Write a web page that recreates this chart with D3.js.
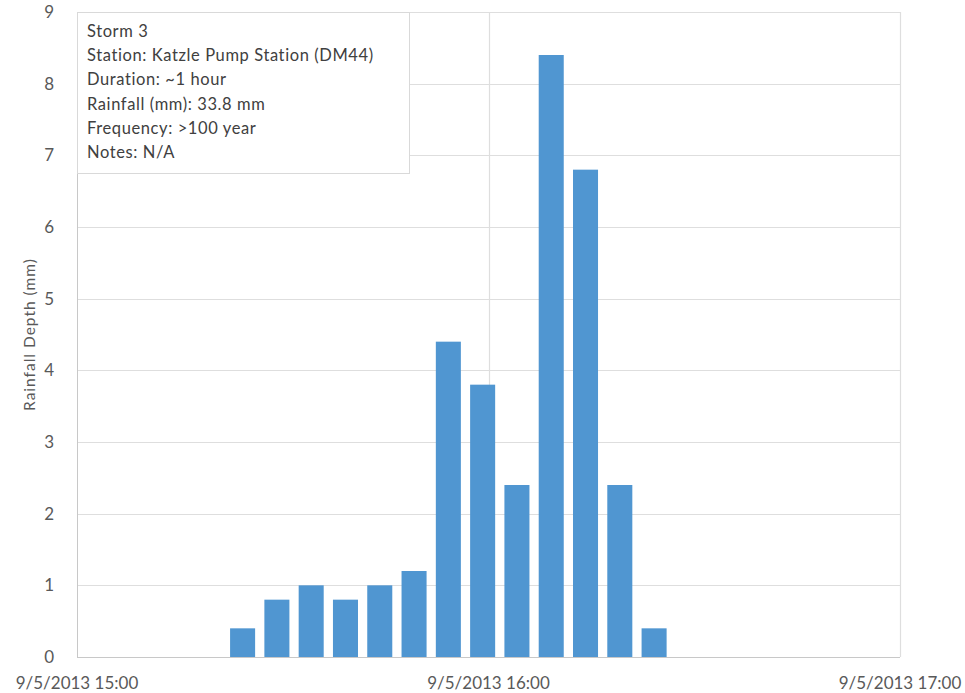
<!DOCTYPE html>
<html>
<head>
<meta charset="utf-8">
<script src="https://cdn.jsdelivr.net/npm/d3@7"></script>
<style>
  body { margin: 0; background: #fff; }
  text { font-family: Lato, "Noto Sans", sans-serif; }
</style>
</head>
<body>
<svg id="chart" width="965" height="693"></svg>
<script>
// Data
const times = ["15:24","15:29","15:34","15:39","15:44","15:49","15:54","15:59","16:04","16:09","16:14","16:19","16:24"];
const rainfall = [0.4, 0.8, 1.0, 0.8, 1.0, 1.2, 4.4, 3.8, 2.4, 8.4, 6.8, 2.4, 0.4];
const xTickLabels = ["9/5/2013 15:00", "9/5/2013 16:00", "9/5/2013 17:00"];
const xTickTimes = ["15:00", "16:00", "17:00"];
const yTicks = [0,1,2,3,4,5,6,7,8,9];
const noteLines = [
  "Storm 3",
  "Station: Katzle Pump Station (DM44)",
  "Duration: ~1 hour",
  "Rainfall (mm): 33.8 mm",
  "Frequency: >100 year",
  "Notes: N/A"
];
const yTitle = "Rainfall Depth (mm)";

(function () {
const parse = t => d3.timeParse("%Y-%m-%d %H:%M")("2013-09-05 " + t);

const svg = d3.select("#chart");
const pLeft = 77, pRight = 900, pTop = 12, pBottom = 657;

const x = d3.scaleTime().domain([parse("15:00"), parse("17:00")]).range([pLeft, pRight]);
const y = d3.scaleLinear().domain([0, 9]).range([pBottom, pTop]);

const grid = "#dedede";
const textColor = "#595959";

// horizontal gridlines
svg.append("g").selectAll("line").data(yTicks.filter(d => d > 0)).join("line")
  .attr("x1", pLeft).attr("x2", pRight)
  .attr("y1", d => Math.round(y(d)) + 0.5).attr("y2", d => Math.round(y(d)) + 0.5)
  .attr("stroke", grid).attr("stroke-width", 1.2);

// vertical gridlines
svg.append("g").selectAll("line").data(xTickTimes.slice(1)).join("line")
  .attr("x1", d => Math.round(x(parse(d))) + 0.5).attr("x2", d => Math.round(x(parse(d))) + 0.5)
  .attr("y1", pTop).attr("y2", pBottom)
  .attr("stroke", grid).attr("stroke-width", 1.2);

// bars
const step = x(parse("15:05")) - x(parse("15:00"));
const bw = step * 0.73;
svg.append("g").selectAll("rect").data(rainfall).join("rect")
  .attr("x", (d, i) => x(parse(times[i])) - bw / 2 + 1)
  .attr("width", bw)
  .attr("y", d => y(d))
  .attr("height", d => y(0) - y(d))
  .attr("fill", "#5096d1");

// axes lines
svg.append("line").attr("x1", pLeft + 0.5).attr("x2", pLeft + 0.5).attr("y1", pTop).attr("y2", pBottom)
  .attr("stroke", "#c8c8c8");
svg.append("line").attr("x1", pLeft).attr("x2", pRight).attr("y1", pBottom + 0.5).attr("y2", pBottom + 0.5)
  .attr("stroke", "#c8c8c8");

// y tick labels
svg.append("g").selectAll("text").data(yTicks).join("text")
  .attr("x", 54).attr("y", d => y(d)).attr("dy", "0.35em")
  .attr("text-anchor", "end")
  .attr("font-size", 17).attr("fill", textColor)
  .text(d => d);

// x tick labels
svg.append("g").selectAll("text").data(xTickTimes).join("text")
  .attr("x", d => x(parse(d))).attr("y", 689)
  .attr("text-anchor", "middle")
  .attr("font-size", 17).attr("fill", textColor)
  .text((d, i) => xTickLabels[i]);

// y title
svg.append("text")
  .attr("transform", `translate(35, ${(pTop + pBottom) / 2}) rotate(-90)`)
  .attr("text-anchor", "middle")
  .attr("font-size", 15.5).attr("letter-spacing", 1).attr("fill", textColor)
  .text(yTitle);

// note box
const box = svg.append("g");
box.append("rect").attr("x", 77.5).attr("y", 12.5).attr("width", 332).attr("height", 161)
  .attr("fill", "#fff").attr("stroke", "#d9d9d9");
box.selectAll("text").data(noteLines).join("text")
  .attr("x", 87).attr("y", (d, i) => 37 + i * 24.2)
  .attr("font-size", 16.5).attr("letter-spacing", 0.6).attr("fill", "#404040")
  .text(d => d);
})();
</script>
</body>
</html>
